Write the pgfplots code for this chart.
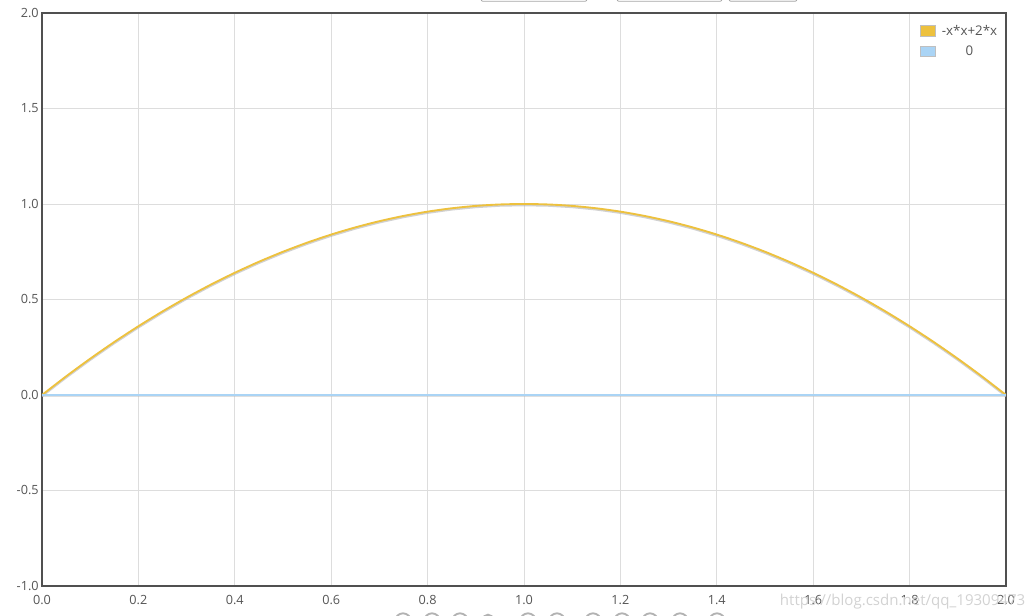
\documentclass[border=0pt]{standalone}
\usepackage{pgfplots}
\pgfplotsset{compat=1.18}
\usepackage{fontspec}
\setmainfont{Open Sans}
\definecolor{txt}{HTML}{555555}
\definecolor{frame}{HTML}{505050}
\definecolor{gridc}{HTML}{DDDDDD}
\definecolor{yel}{HTML}{EDC13E}
\definecolor{blu}{HTML}{AAD4F5}
\begin{document}
\begin{tikzpicture}[x=1pt,y=1pt]
\useasboundingbox (-31.5,-22.5) rectangle (744,439.5);
% top UI fragments
\draw[gray!70, rounded corners=1.5pt, line width=0.6pt] (329.25,445) -- (329.25,438.5) -- (408.75,438.5) -- (408.75,445);
\draw[gray!70, rounded corners=1.5pt, line width=0.6pt] (431.25,445) -- (431.25,438.5) -- (510,438.5) -- (510,445);
\draw[gray!70, fill=gray!8, rounded corners=1.5pt, line width=0.6pt] (515.25,445) -- (515.25,438.5) -- (566.25,438.5) -- (566.25,445);
% bottom UI fragments
\foreach \cx in {270.75,292.5,313.5,364.5,386.25,413.25,435,456,478.5,506.25}
  \draw[gray!60, line width=1.4pt] (\cx,-26.5) circle (6pt);
\draw[gray!60, line width=1.4pt] (334.5,-25.5) circle (4pt);
\begin{axis}[
  at={(0,0)}, anchor=south west,
  scale only axis,
  width=723pt, height=429.75pt,
  xmin=0, xmax=2, ymin=-1, ymax=2,
  xtick={0,0.2,...,2.01}, ytick={-1,-0.5,...,2.01},
  ticklabel style={font=\fontsize{9.5}{11}\selectfont, text=txt},
  xticklabel style={/tikz/yshift=-3.5pt, /pgf/number format/.cd, fixed, fixed zerofill, precision=1},
  yticklabel style={/tikz/xshift=1pt, /pgf/number format/.cd, fixed, fixed zerofill, precision=1},
  /pgf/number format/assume math mode=true,
  major tick length=0pt,
  grid=major,
  major grid style={gridc, line width=0.6pt},
  axis line style={frame, line width=1.5pt},
  legend style={at={(0.998,0.989)}, anchor=north east, draw=none, fill=none,
    font=\fontsize{10}{12}\selectfont, text=txt, row sep=2.5pt,
    /tikz/every odd column/.append style={column sep=2.5pt}},
  legend cell align=center,
]
\addlegendimage{legend image code/.code={\draw[draw=gray!50, fill=yel, line width=0.6pt] (0,-4pt) rectangle (11pt,4pt);}}
\addlegendentry{-x*x+2*x}
\addlegendimage{legend image code/.code={\draw[draw=gray!50, fill=blu, line width=0.6pt] (0,-4pt) rectangle (11pt,4pt);}}
\addlegendentry{0}
\addplot[draw=black!30, line width=1.4pt, yshift=-1pt, forget plot, opacity=0.6] coordinates {
(0,0) (0.05,0.0975) (0.1,0.19) (0.15,0.2775) (0.2,0.36) (0.25,0.4375) (0.3,0.51) (0.35,0.5775) (0.4,0.64) (0.45,0.6975) (0.5,0.75) (0.55,0.7975) (0.6,0.84) (0.65,0.8775) (0.7,0.91) (0.75,0.9375) (0.8,0.96) (0.85,0.9775) (0.9,0.99) (0.95,0.9975) (1,1)
(1.05,0.9975) (1.1,0.99) (1.15,0.9775) (1.2,0.96) (1.25,0.9375) (1.3,0.91) (1.35,0.8775) (1.4,0.84) (1.45,0.7975) (1.5,0.75) (1.55,0.6975) (1.6,0.64) (1.65,0.5775) (1.7,0.51) (1.75,0.4375) (1.8,0.36) (1.85,0.2775) (1.9,0.19) (1.95,0.0975) (2,0)};
\addplot[draw=yel, line width=1.4pt, smooth, forget plot] coordinates {
(0,0) (0.05,0.0975) (0.1,0.19) (0.15,0.2775) (0.2,0.36) (0.25,0.4375) (0.3,0.51) (0.35,0.5775) (0.4,0.64) (0.45,0.6975) (0.5,0.75) (0.55,0.7975) (0.6,0.84) (0.65,0.8775) (0.7,0.91) (0.75,0.9375) (0.8,0.96) (0.85,0.9775) (0.9,0.99) (0.95,0.9975) (1,1)
(1.05,0.9975) (1.1,0.99) (1.15,0.9775) (1.2,0.96) (1.25,0.9375) (1.3,0.91) (1.35,0.8775) (1.4,0.84) (1.45,0.7975) (1.5,0.75) (1.55,0.6975) (1.6,0.64) (1.65,0.5775) (1.7,0.51) (1.75,0.4375) (1.8,0.36) (1.85,0.2775) (1.9,0.19) (1.95,0.0975) (2,0)};
\addplot[draw=black!25, line width=1.4pt, yshift=-1pt, forget plot, opacity=0.5] coordinates {(0,0) (1,0) (2,0)};
\addplot[draw=blu, line width=1.6pt, forget plot] coordinates {(0,0) (0.5,0) (1,0) (1.5,0) (2,0)};
\end{axis}
\node[anchor=base east, text=gray!35, font=\fontsize{11.3}{13}\selectfont] at (741,-15) {https://blog.csdn.net/qq\_19309473};
\end{tikzpicture}
\end{document}
